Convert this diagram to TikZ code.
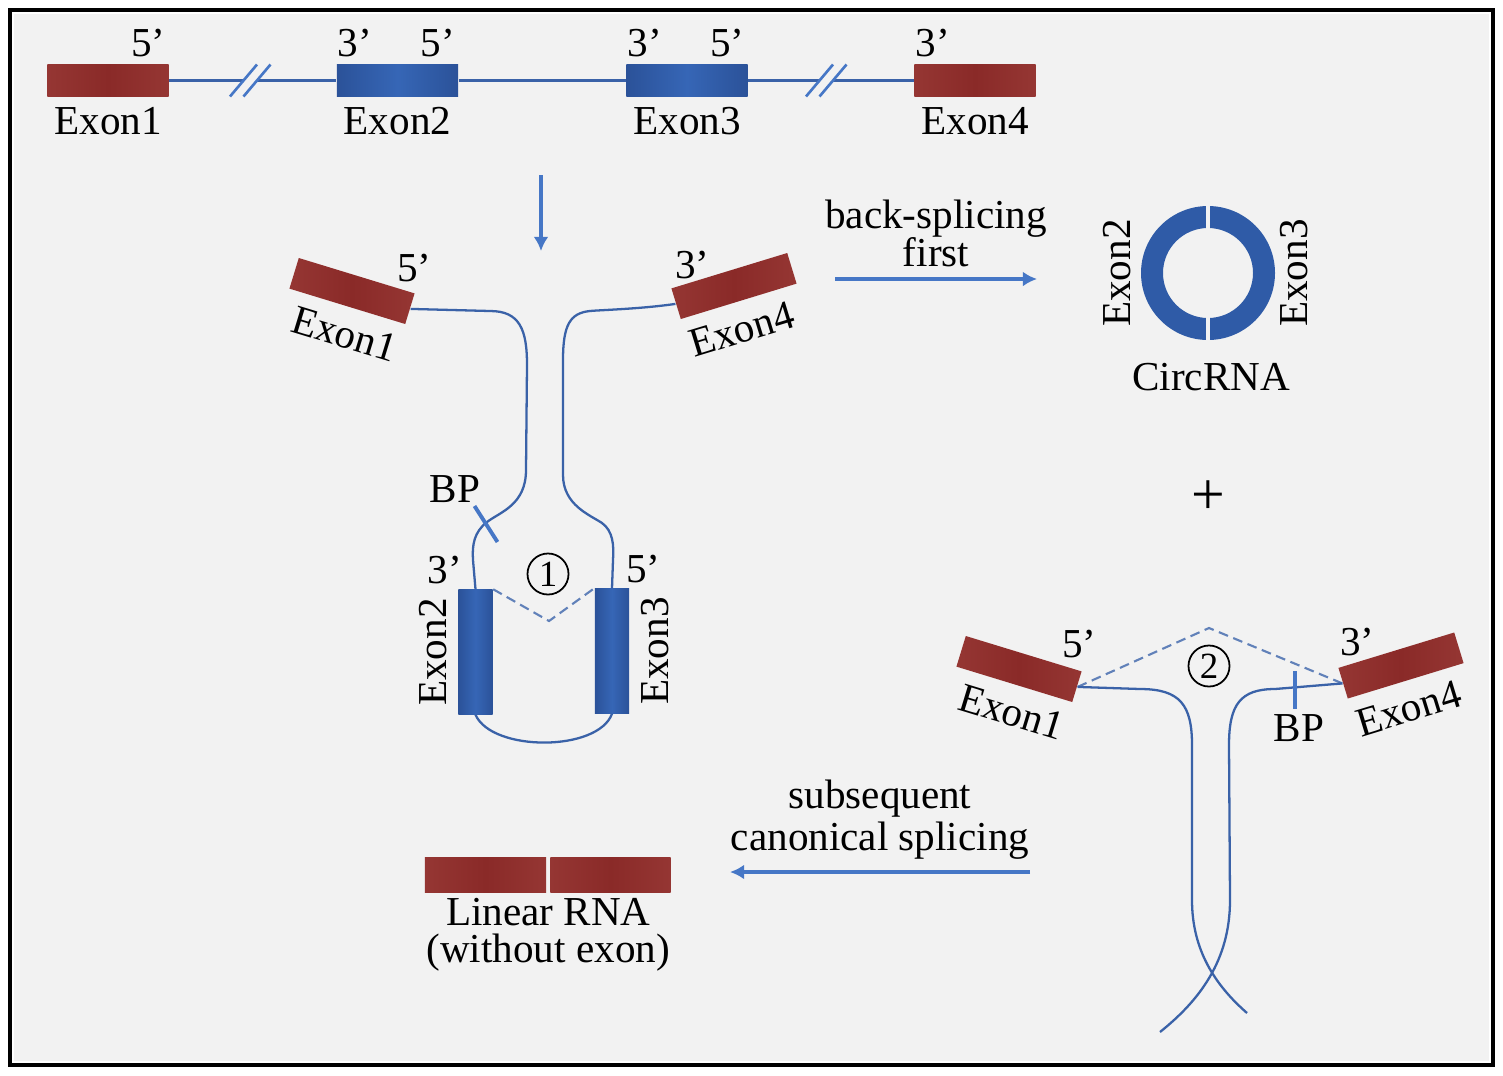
\documentclass[tikz,border=0pt]{standalone}
\usepackage{fontspec}
\setmainfont{Liberation Serif}
\usepackage{tikz}
\usetikzlibrary{calc}
\usetikzlibrary{arrows.meta}

\definecolor{exred}{HTML}{8A2A28}
\definecolor{exredE}{HTML}{953633}
\definecolor{exblue}{HTML}{3666B6}
\definecolor{exblueE}{HTML}{2B5299}
\definecolor{ringblue}{HTML}{2F5BA7}
\definecolor{strandblue}{HTML}{3A62A8}
\definecolor{flowblue}{HTML}{4677C6}
\definecolor{bggray}{HTML}{F2F2F2}

\begin{document}
\begin{tikzpicture}[
        x=0.01cm, y=-0.01cm,
        font=\fontsize{11.7}{11}\selectfont,
        redexon/.style={minimum width=1.21cm, minimum height=0.32cm, inner sep=0pt,
            left color=exredE, right color=exredE, middle color=exred},
        blueexon/.style={minimum width=1.21cm, minimum height=0.32cm, inner sep=0pt,
            left color=exblueE, right color=exblueE, middle color=exblue},
        upexon/.style={blueexon, minimum width=0.34cm, minimum height=1.24cm},
        strand/.style={draw=strandblue, line width=0.65pt},
        junction/.style={draw=strandblue!80, line width=0.6pt, dash pattern=on 2.8pt off 1.6pt},
        bptick/.style={draw=flowblue, line width=1.1pt},
        flow/.style={draw=flowblue, line width=1.15pt, -{Latex[length=4pt,width=4.2pt]}},
        tag/.style={inner sep=0pt},
        stepmark/.style={draw, circle, minimum size=0.41cm, inner sep=0pt, line width=0.5pt,
            font=\fontsize{10.5}{10.5}\selectfont},
    ]
    \fill[white] (0,0) rectangle (1503,1075);
    \useasboundingbox (0,0) rectangle (1503,1075);
    \draw[line width=1.1pt] (10,10) rectangle (1493,1065);
    \fill[bggray] (14,14) rectangle (1489,1061);

    % pre-mRNA
    \node[redexon] (ex1) at (108,80.5) {};
    \node[blueexon] (ex2) at (397.5,80.5) {};
    \node[blueexon] (ex3) at (687,80.5) {};
    \node[redexon] (ex4) at (975,80.5) {};
    \foreach \e/\t in {ex1/Exon1, ex2/Exon2, ex3/Exon3, ex4/Exon4}
        \node[tag, anchor=north] at ($(\e.south)+(0,9)$) {\t};
    \node[tag, anchor=south east] at ($(ex1.north east)+(-3,-6)$) {5'};
    \node[tag, anchor=south west] at ($(ex2.north west)+(1,-6)$) {3'};
    \node[tag, anchor=south east] at ($(ex2.north east)+(-3,-6)$) {5'};
    \node[tag, anchor=south west] at ($(ex3.north west)+(1,-6)$) {3'};
    \node[tag, anchor=south east] at ($(ex3.north east)+(-3,-6)$) {5'};
    \node[tag, anchor=south west] at ($(ex4.north west)+(1,-6)$) {3'};

    \coordinate (brkA) at (250,80.5);
    \coordinate (brkB) at (826,80.5);
    \draw[strand] (ex1.east) -- ($(brkA)+(-6.5,0)$);
    \draw[strand] ($(brkA)+(7,0)$) -- (ex2.west);
    \draw[strand] (ex2.east) -- (ex3.west);
    \draw[strand] (ex3.east) -- ($(brkB)+(-6.5,0)$);
    \draw[strand] ($(brkB)+(7,0)$) -- (ex4.west);
    \foreach \b in {brkA, brkB}
        \foreach \dx in {-6.5,7}
            \draw[draw=flowblue, line width=0.75pt] ($(\b)+(\dx-13.5,16)$) -- ($(\b)+(\dx+13.5,-16)$);

    \coordinate (dnTop) at (541,175);
    \draw[flow] (dnTop) -- ++(0,76);

    % lariat (1)
    \node[redexon, rotate=-17] (a1) at (352,291) {};
    \node[redexon, rotate=17] (a4) at (734,286) {};
    \node[upexon] (a2) at (475.5,652) {};
    \node[upexon] (a3) at (612,651) {};
    \node[tag, anchor=south] at ($(a1.north east)+(-1,-10)$) {5'};
    \node[tag, anchor=north west, rotate=-17, inner sep=3.5pt] at (a1.south west) {Exon1};
    \node[tag, anchor=south west] at ($(a4.north west)+(4,-8)$) {3'};
    \node[tag, anchor=north east, rotate=17, inner sep=3.5pt] at (a4.south east) {Exon4};
    \node[tag, anchor=south east] at ($(a2.north west)+(5,-5)$) {3'};
    \node[tag, anchor=south west] at ($(a3.north east)+(-4,-5)$) {5'};
    \node[tag, rotate=90, anchor=south, inner sep=3pt] at (a2.west) {Exon2};
    \node[tag, rotate=90, anchor=north, inner sep=3pt] at (a3.east) {Exon3};

    \draw[strand] (a1.east) -- (490,311) .. controls (520,311) and (527,330) .. (527,365)
        -- (526,470) .. controls (526,505) and (500,512) .. (487,522)
        .. controls (474,532) and (472,545) .. (473,560) -- (a2.north);
    \draw[strand] (a4.west) .. controls (640,309) and (600,310) .. (590,311)
        .. controls (570,313) and (563,325) .. (563,360)
        -- (563,475) .. controls (563,505) and (590,515) .. (602,523)
        .. controls (613,531) and (614,545) .. (613,560) -- (a3.north);
    \draw[strand] (a2.south) .. controls (492,752) and (598,752) .. (a3.south);

    \coordinate (apA) at (549,621);
    \draw[junction] (a2.north east) -- (apA) -- (a3.north west);
    \node[stepmark] (st1) at (548,574) {1};

    \coordinate (bpA) at (486,524);
    \draw[bptick] ($(bpA)+(-11.5,-18)$) -- ($(bpA)+(11.5,18)$);
    \node[tag, anchor=south] at ($(bpA)+(-31,-21)$) {BP};

    \coordinate (bsL) at (835,279);
    \coordinate (bsR) at (1037,279);
    \draw[flow] (bsL) -- node[above, align=center, inner sep=3pt,
        font=\fontsize{11.7}{10.8}\selectfont] {back-splicing\\first} (bsR);

    % circRNA
    \coordinate (circ) at (1208,273);
    \fill[ringblue, even odd rule] (circ) circle[radius=67] (circ) circle[radius=45];
    \draw[bggray, line width=1.4pt] ($(circ)+(0,-70)$) -- ($(circ)+(0,70)$);
    \node[tag, rotate=90, anchor=south] at ($(circ)+(-76,0)$) {Exon2};
    \node[tag, rotate=90, anchor=north] at ($(circ)+(72,0)$) {Exon3};
    \node[tag, anchor=north] at ($(circ)+(3,90)$) {CircRNA};

    \node[font=\fontsize{17}{17}\selectfont] (plus) at (1208,498) {+};

    % lariat (2)
    \node[redexon, rotate=-17] (b1) at (1019,669) {};
    \node[redexon, rotate=17] (b4) at (1401,665.5) {};
    \node[tag, anchor=south] at ($(b1.north east)+(-3,-12)$) {5'};
    \node[tag, anchor=north west, rotate=-17, inner sep=3.5pt] at (b1.south west) {Exon1};
    \node[tag, anchor=south west] at ($(b4.north west)+(2,-11)$) {3'};
    \node[tag, anchor=north east, rotate=17, inner sep=3.5pt] at (b4.south east) {Exon4};

    \coordinate (apB) at (1209,628);
    \draw[junction] (b1.east) -- (apB) -- (b4.west);
    \node[stepmark] (st2) at (1209,666) {2};

    \draw[strand] (b1.east) -- (1140,689) .. controls (1180,689) and (1192,705) .. (1192,745)
        -- (1192,900) .. controls (1192,950) and (1215,985) .. (1247,1013);
    \draw[strand] (b4.west) -- (1275,689) .. controls (1240,689) and (1229,705) .. (1229,745)
        -- (1230,900) .. controls (1230,960) and (1200,1000) .. (1160,1032);

    \coordinate (bpB) at (1295,689);
    \draw[bptick] ($(bpB)+(0,-18)$) -- ($(bpB)+(0,20)$);
    \node[tag, anchor=north] at ($(bpB)+(4,25)$) {BP};

    \coordinate (csR) at (1030,872);
    \coordinate (csL) at (730,872);
    \draw[flow] (csR) -- node[above, align=center, inner sep=3pt,
        font=\fontsize{11.7}{12}\selectfont] {subsequent\\canonical splicing} (csL);

    % linear product
    \node[redexon, minimum height=0.35cm] (lin1) at (485.5,874.5) {};
    \node[redexon, minimum height=0.35cm, minimum width=1.2cm] (lin2) at (610.5,874.5) {};
    \node[tag, anchor=north, align=center, font=\fontsize{11.7}{10.4}\selectfont]
        at ($(lin1.south east)!.5!(lin2.south west)+(0,5)$) {Linear RNA\\(without exon)};

\end{tikzpicture}
\end{document}
